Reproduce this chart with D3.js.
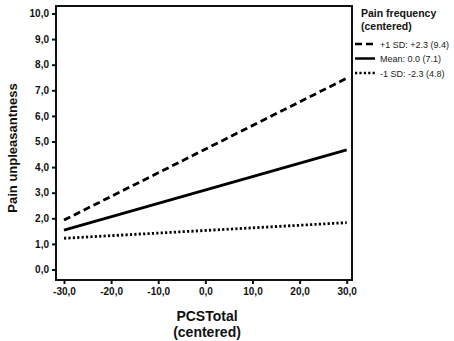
<!DOCTYPE html>
<meta charset="utf-8">
<style>
body { margin: 0; background: #fff; }
text { font-family: "Liberation Sans", Arial, sans-serif; fill: #111; }
.tick text { font-size: 10px; font-weight: bold; }
</style>
<svg width="454" height="341"></svg>
<script src="https://d3js.org/d3.v7.min.js"></script>
<script>

// x = PCSTotal (centered), y = predicted pain unpleasantness
var xEnds = [-30, 30];
var series = ["+1 SD: +2.3 (9.4)", "Mean: 0.0 (7.1)", "-1 SD: -2.3 (4.8)"];
var plusSD = [1.93, 7.47];
var meanSD = [1.54, 4.67];
var minusSD = [1.22, 1.83];
var xTicks = [-30, -20, -10, 0, 10, 20, 30];
var yTicks = [0, 1, 2, 3, 4, 5, 6, 7, 8, 9, 10];

var dashes = ["7,4", null, "2.2,2.2"];
var values = [plusSD, meanSD, minusSD];

var svg = d3.select("svg");
var pLeft = 56, pRight = 352, pTop = 6, pBottom = 280;

var x = d3.scaleLinear().domain([-30, 30]).range([64, 346.7]);
var y = d3.scaleLinear().domain([0, 10]).range([269.5, 13.5]);

var fmt = function(d) { return d3.format(".1f")(d).replace(".", ",").replace("\u2212", "-"); };

// frame
svg.append("rect")
  .attr("x", pLeft).attr("y", pTop)
  .attr("width", pRight - pLeft).attr("height", pBottom - pTop)
  .attr("fill", "none").attr("stroke", "#111").attr("stroke-width", 2);

var yAxis = svg.append("g")
  .attr("transform", "translate(" + pLeft + ",0)")
  .call(d3.axisLeft(y).tickValues(yTicks).tickFormat(fmt).tickSize(4).tickPadding(3));
yAxis.select(".domain").remove();
yAxis.selectAll(".tick line").attr("stroke", "#111").attr("stroke-width", 2);

var xAxis = svg.append("g")
  .attr("transform", "translate(0," + pBottom + ")")
  .call(d3.axisBottom(x).tickValues(xTicks).tickFormat(fmt).tickSize(4).tickPadding(4));
xAxis.select(".domain").remove();
xAxis.selectAll(".tick line").attr("stroke", "#111").attr("stroke-width", 2);

// lines
var line = d3.line()
  .x(function(d, i) { return x(xEnds[i]); })
  .y(function(d) { return y(d); });

svg.selectAll(".series")
  .data(values)
  .enter().append("path")
  .attr("class", "series")
  .attr("d", line)
  .attr("fill", "none")
  .attr("stroke", "#000")
  .attr("stroke-width", 2.8)
  .attr("stroke-dasharray", function(d, i) { return dashes[i]; });

// axis titles
svg.append("text")
  .attr("transform", "translate(17,148) rotate(-90)")
  .attr("text-anchor", "middle")
  .style("font-size", "13px").style("font-weight", "bold")
  .text("Pain unpleasantness");

svg.append("text")
  .attr("x", 207).attr("y", 321)
  .attr("text-anchor", "middle")
  .style("font-size", "14px").style("font-weight", "bold")
  .text("PCSTotal");
svg.append("text")
  .attr("x", 207).attr("y", 337)
  .attr("text-anchor", "middle")
  .style("font-size", "14px").style("font-weight", "bold")
  .text("(centered)");

// legend
var lg = svg.append("g");
lg.append("text").attr("x", 361).attr("y", 17)
  .style("font-size", "10.5px").style("font-weight", "bold").text("Pain frequency");
lg.append("text").attr("x", 361).attr("y", 30)
  .style("font-size", "10.5px").style("font-weight", "bold").text("(centered)");

var items = lg.selectAll(".item")
  .data(series)
  .enter().append("g")
  .attr("class", "item")
  .attr("transform", function(d, i) { return "translate(0," + (44 + i * 14.5) + ")"; });

items.append("line")
  .attr("x1", 355).attr("x2", 375)
  .attr("stroke", "#000").attr("stroke-width", 2.5)
  .attr("stroke-dasharray", function(d, i) { return dashes[i]; });

items.append("text")
  .attr("x", 380).attr("y", 3.5)
  .style("font-size", "9px").style("fill", "#222")
  .text(function(d) { return d; });

</script>
